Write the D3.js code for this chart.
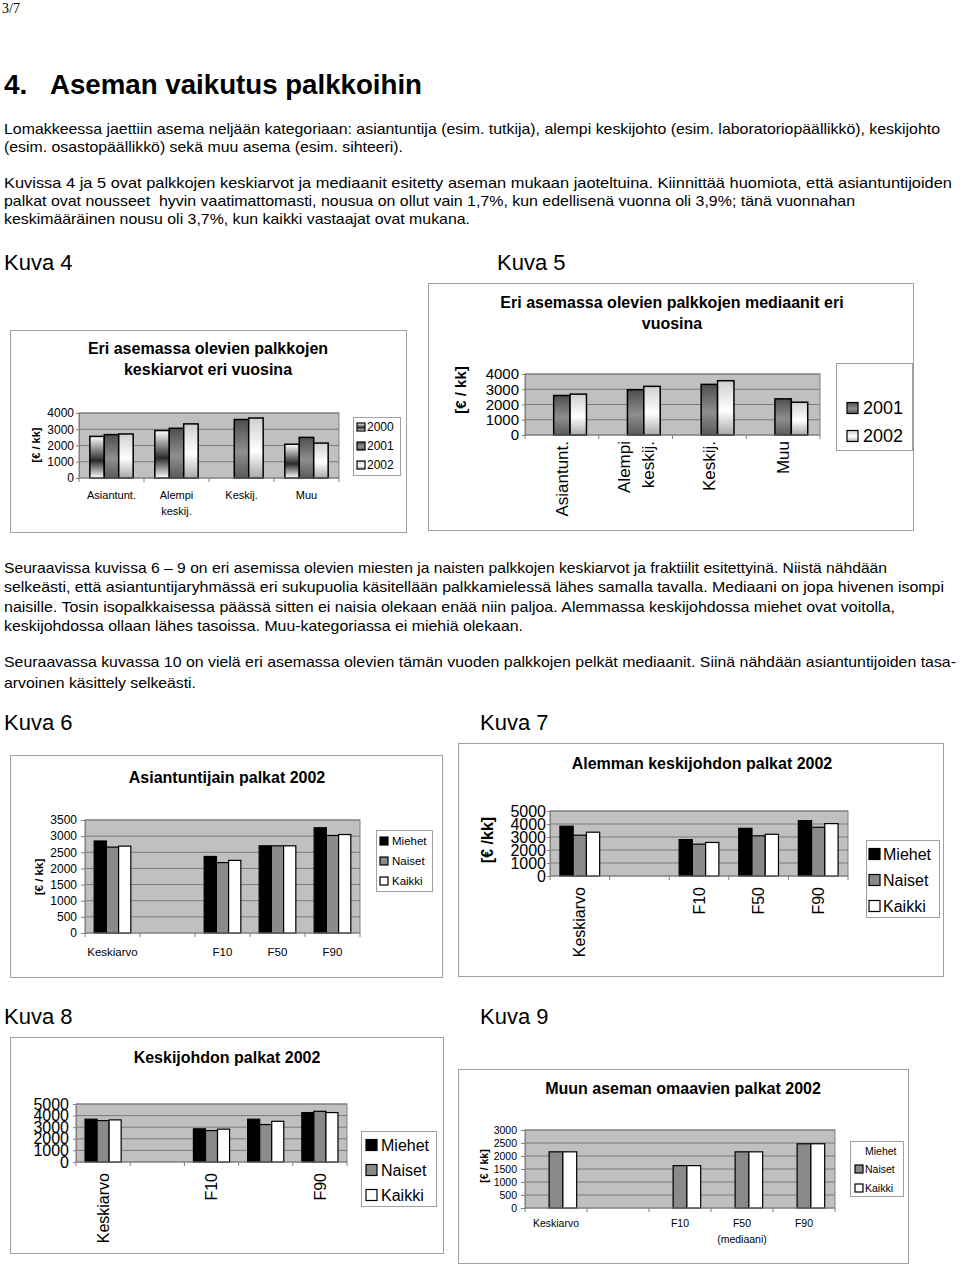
<!DOCTYPE html>
<html>
<head>
<meta charset="utf-8">
<script src="https://cdn.jsdelivr.net/npm/d3@7"></script>
<style>
  body { margin: 0; background: #fff; }
  svg { display: block; font-family: "Liberation Sans", Arial, sans-serif; }
  .pre { white-space: pre; }
</style>
</head>
<body>
<div id="page"></div>
<script>
// ---- data ----
const positions = ["Asiantunt.", "Alempi\nkeskij.", "Keskij.", "Muu"];
const years4 = ["2000", "2001", "2002"];
const mean2000 = [2560, 2920, null, 2080];
const mean2001 = [2670, 3060, 3600, 2500];
const mean2002 = [2710, 3330, 3690, 2150];

const years5 = ["2001", "2002"];
const median2001 = [2590, 2970, 3320, 2370];
const median2002 = [2680, 3190, 3560, 2150];

const fractiles = ["Keskiarvo", "", "F10", "F50", "F90"];
const fractiles9 = ["Keskiarvo", "", "F10", "F50\n(mediaani)", "F90"];
const groups = ["Miehet", "Naiset", "Kaikki"];

const asiantMiehet = [2850, null, 2370, 2700, 3260];
const asiantNaiset = [2660, null, 2180, 2700, 3020];
const asiantKaikki = [2690, null, 2250, 2700, 3050];

const alempiMiehet = [3830, null, 2800, 3670, 4260];
const alempiNaiset = [3140, null, 2450, 3090, 3750];
const alempiKaikki = [3370, null, 2580, 3210, 4030];

const keskiMiehet = [3690, null, 2860, 3690, 4260];
const keskiNaiset = [3570, null, 2710, 3230, 4370];
const keskiKaikki = [3630, null, 2830, 3510, 4260];

const muuMiehet = [null, null, null, null, null];
const muuNaiset = [2160, null, 1630, 2160, 2470];
const muuKaikki = [2160, null, 1630, 2160, 2470];

// ---- page text ----
const bodyLines = [
  ["Lomakkeessa jaettiin asema neljään kategoriaan: asiantuntija (esim. tutkija), alempi keskijohto (esim. laboratoriopäällikkö), keskijohto", 134, 936],
  ["(esim. osastopäällikkö) sekä muu asema (esim. sihteeri).", 152, 399],
  ["Kuvissa 4 ja 5 ovat palkkojen keskiarvot ja mediaanit esitetty aseman mukaan jaoteltuina. Kiinnittää huomiota, että asiantuntijoiden", 188, 948],
  ["palkat ovat nousseet  hyvin vaatimattomasti, nousua on ollut vain 1,7%, kun edellisenä vuonna oli 3,9%; tänä vuonnahan", 206, 851],
  ["keskimääräinen nousu oli 3,7%, kun kaikki vastaajat ovat mukana.", 224, 466],
  ["Seuraavissa kuvissa 6 – 9 on eri asemissa olevien miesten ja naisten palkkojen keskiarvot ja fraktiilit esitettyinä. Niistä nähdään", 573, 883],
  ["selkeästi, että asiantuntijaryhmässä eri sukupuolia käsitellään palkkamielessä lähes samalla tavalla. Mediaani on jopa hivenen isompi", 592, 940],
  ["naisille. Tosin isopalkkaisessa päässä sitten ei naisia olekaan enää niin paljoa. Alemmassa keskijohdossa miehet ovat voitolla,", 612, 891],
  ["keskijohdossa ollaan lähes tasoissa. Muu-kategoriassa ei miehiä olekaan.", 631, 519],
  ["Seuraavassa kuvassa 10 on vielä eri asemassa olevien tämän vuoden palkkojen pelkät mediaanit. Siinä nähdään asiantuntijoiden tasa-", 667, 952],
  ["arvoinen käsittely selkeästi.", 688, 192]
];
const figLabels = [
  ["Kuva 4", 4, 270], ["Kuva 5", 497, 270],
  ["Kuva 6", 4, 730], ["Kuva 7", 480, 730],
  ["Kuva 8", 4, 1024], ["Kuva 9", 480, 1024]
];

const svg = d3.select("#page").append("svg").attr("width", 960).attr("height", 1266);
const defs = svg.append("defs");

function vgrad(id, stops) {
  const lg = defs.append("linearGradient").attr("id", id)
    .attr("x1", 0).attr("y1", 0).attr("x2", 0).attr("y2", 1);
  stops.forEach(([o, c]) => lg.append("stop").attr("offset", o).attr("stop-color", c));
}
vgrad("g2000", [[0, "#ffffff"], [0.58, "#2a2a2a"], [1, "#ffffff"]]);
vgrad("g2001", [[0, "#4e4e4e"], [0.55, "#8e8e8e"], [1, "#5a5a5a"]]);
vgrad("g2002", [[0, "#cfcfcf"], [0.55, "#ffffff"], [1, "#a9a9a9"]]);

svg.append("text").attr("x", 2).attr("y", 13)
  .attr("font-family", "Liberation Serif, serif").attr("font-size", 14).text("3/7");

svg.append("text").attr("x", 4).attr("y", 94)
  .attr("font-weight", "bold").attr("font-size", 28).text("4.");
svg.append("text").attr("x", 50).attr("y", 94)
  .attr("font-weight", "bold").attr("font-size", 28)
  .attr("textLength", 372).attr("lengthAdjust", "spacingAndGlyphs")
  .text("Aseman vaikutus palkkoihin");

svg.selectAll("text.body").data(bodyLines).join("text")
  .attr("class", "body pre")
  .attr("x", 4).attr("y", d => d[1])
  .attr("font-size", 15)
  .attr("textLength", d => d[2]).attr("lengthAdjust", "spacingAndGlyphs")
  .text(d => d[0]);

svg.selectAll("text.fig").data(figLabels).join("text")
  .attr("class", "fig")
  .attr("x", d => d[1]).attr("y", d => d[2])
  .attr("font-size", 22)
  .text(d => d[0]);

// ---- generic Excel-like bar chart ----
function barChart(o) {
  const g = svg.append("g");
  const [bx0, by0, bx1, by1] = o.box;
  g.append("rect")
    .attr("x", bx0 + 0.5).attr("y", by0 + 0.5)
    .attr("width", bx1 - bx0).attr("height", by1 - by0)
    .attr("fill", "#fff").attr("stroke", "#a0a0a0");

  o.title.forEach((t, i) => g.append("text")
    .attr("x", o.titleX).attr("y", o.titleY + i * 21)
    .attr("text-anchor", "middle").attr("font-weight", "bold").attr("font-size", 16)
    .text(t));

  const [pl, pt, pr, pb] = o.plot;
  const n = o.categories.length;
  const x = d3.scaleBand().domain(d3.range(n)).range([pl, pr]);
  const y = d3.scaleLinear().domain([0, o.yMax]).range([pb, pt]);
  const ticks = d3.range(0, o.yMax + 1, o.yStep);

  g.append("rect").attr("x", pl).attr("y", pt)
    .attr("width", pr - pl).attr("height", pb - pt).attr("fill", "#c0c0c0");
  g.selectAll(null).data(ticks.slice(1)).join("line")
    .attr("x1", pl).attr("x2", pr)
    .attr("y1", d => y(d)).attr("y2", d => y(d))
    .attr("stroke", "#7a7a7a");
  g.append("rect").attr("x", pl).attr("y", pt)
    .attr("width", pr - pl).attr("height", pb - pt)
    .attr("fill", "none").attr("stroke", "#808080");

  const slots = o.slots || o.series.length;
  const offset = o.slotOffset || 0;
  const bw = x.step() / (slots + 1.5);
  o.series.forEach((s, si) => {
    g.selectAll(null)
      .data(s.values.map((v, i) => ({ v, i })).filter(d => d.v != null))
      .join("rect")
      .attr("x", d => x(d.i) + (x.step() - slots * bw) / 2 + (offset + si) * bw)
      .attr("y", d => y(d.v))
      .attr("width", bw).attr("height", d => pb - y(d.v))
      .attr("fill", s.fill).attr("stroke", "#000").attr("stroke-width", o.barStroke || 1.2);
  });

  // y axis
  const ya = g.append("g").attr("transform", `translate(${pl},0)`)
    .call(d3.axisLeft(y).tickValues(ticks).tickSize(o.tickSize || 4)
      .tickSizeOuter(0).tickPadding(o.tickPad).tickFormat(d3.format("d")));
  ya.attr("font-family", null).attr("font-size", o.tickFont);
  ya.select(".domain").attr("stroke", "#808080");
  ya.selectAll(".tick line").attr("stroke", "#808080");
  ya.selectAll(".tick text").attr("fill", "#000");

  // category axis
  g.append("line").attr("x1", pl).attr("x2", pr).attr("y1", pb).attr("y2", pb)
    .attr("stroke", "#808080");
  g.selectAll(null).data(d3.range(n + 1)).join("line")
    .attr("x1", i => pl + i * x.step()).attr("x2", i => pl + i * x.step())
    .attr("y1", pb).attr("y2", pb + 4).attr("stroke", "#808080");

  const every = o.labelEvery || 1;
  o.categories.forEach((c, i) => {
    if (i % every !== 0 || !c) return;
    const cx = x(i) + x.step() / 2;
    const lines = c.split("\n");
    lines.forEach((ln, li) => {
      if (o.rotate) {
        const off = (li - (lines.length - 1) / 2) * o.catLH;
        g.append("text")
          .attr("transform", `translate(${cx + off},${o.catY}) rotate(-90)`)
          .attr("text-anchor", "end").attr("dy", "0.35em")
          .attr("font-size", o.catFont).text(ln);
      } else {
        g.append("text").attr("x", cx).attr("y", o.catY + li * o.catLH)
          .attr("text-anchor", "middle").attr("font-size", o.catFont).text(ln);
      }
    });
  });

  if (o.yLabel) {
    g.append("text")
      .attr("transform", `translate(${o.yLabel[0]},${o.yLabel[1]}) rotate(-90)`)
      .attr("text-anchor", "middle").attr("dy", "0.35em")
      .attr("font-weight", "bold").attr("font-size", o.yLabel[2])
      .text(o.yLabel[3]);
  }

  // legend
  const L = o.legend;
  g.append("rect").attr("x", L.box[0] + 0.5).attr("y", L.box[1] + 0.5)
    .attr("width", L.box[2] - L.box[0]).attr("height", L.box[3] - L.box[1])
    .attr("fill", "#fff").attr("stroke", "#a0a0a0");
  o.series.forEach((s, si) => {
    const cy = L.rows[si];
    if (s.values.some(v => v != null)) {
      g.append("rect").attr("x", L.sx).attr("y", cy - L.ss / 2)
        .attr("width", L.ss).attr("height", L.ss)
        .attr("fill", s.fill).attr("stroke", "#000").attr("stroke-width", 1.2);
    }
    g.append("text").attr("x", L.tx).attr("y", cy).attr("dy", "0.35em")
      .attr("font-size", L.font).text(s.name);
  });
}

// Kuva 4
barChart({
  box: [10, 330, 406, 532],
  title: ["Eri asemassa olevien palkkojen", "keskiarvot eri vuosina"], titleX: 208, titleY: 354,
  plot: [79, 413, 339, 478], yMax: 4000, yStep: 1000, tickFont: 12, tickSize: 3, tickPad: 2,
  categories: positions, catY: 499, catLH: 16, catFont: 11,
  yLabel: [36, 445, 11, "[€ / kk]"],
  barStroke: 1.5,
  series: [
    { name: years4[0], values: mean2000, fill: "url(#g2000)" },
    { name: years4[1], values: mean2001, fill: "url(#g2001)" },
    { name: years4[2], values: mean2002, fill: "url(#g2002)" }
  ],
  legend: { box: [353, 417, 400, 475], rows: [427, 446, 465], sx: 357, ss: 8, tx: 367, font: 12 }
});

// Kuva 5
barChart({
  box: [428, 283, 913, 530],
  title: ["Eri asemassa olevien palkkojen mediaanit eri", "vuosina"], titleX: 672, titleY: 308,
  plot: [525, 374, 820, 435], yMax: 4000, yStep: 1000, tickFont: 15, tickSize: 3, tickPad: 3,
  categories: positions, rotate: true, catY: 441, catLH: 24, catFont: 17,
  yLabel: [461, 390, 15, "[€ / kk]"],
  barStroke: 1.5, slots: 3, slotOffset: 1,
  series: [
    { name: years5[0], values: median2001, fill: "url(#g2001)" },
    { name: years5[1], values: median2002, fill: "url(#g2002)" }
  ],
  legend: { box: [836, 363, 912, 450], rows: [408, 436], sx: 847, ss: 11, tx: 863, font: 18 }
});

// Kuva 6
barChart({
  box: [10, 755, 442, 977],
  title: ["Asiantuntijain palkat 2002"], titleX: 227, titleY: 783,
  plot: [85, 820, 360, 933], yMax: 3500, yStep: 500, tickFont: 12, tickSize: 4, tickPad: 4,
  categories: fractiles, catY: 956, catLH: 16, catFont: 11.5,
  yLabel: [39, 877, 11.5, "[€ / kk]"],
  series: [
    { name: groups[0], values: asiantMiehet, fill: "#000" },
    { name: groups[1], values: asiantNaiset, fill: "#8a8a8a" },
    { name: groups[2], values: asiantKaikki, fill: "#fff" }
  ],
  legend: { box: [376, 830, 432, 891], rows: [841, 861, 881], sx: 380, ss: 8, tx: 392, font: 11.5 }
});

// Kuva 7
barChart({
  box: [458, 743, 943, 976],
  title: ["Alemman keskijohdon palkat 2002"], titleX: 702, titleY: 769,
  plot: [550, 811, 848, 876], yMax: 5000, yStep: 1000, tickFont: 16, tickSize: 3, tickPad: 1,
  categories: fractiles, rotate: true, catY: 887, catLH: 20, catFont: 16,
  yLabel: [487, 840, 16, "[€ /kk]"],
  series: [
    { name: groups[0], values: alempiMiehet, fill: "#000" },
    { name: groups[1], values: alempiNaiset, fill: "#8a8a8a" },
    { name: groups[2], values: alempiKaikki, fill: "#fff" }
  ],
  legend: { box: [866, 840, 939, 917], rows: [854, 880, 906], sx: 869, ss: 11, tx: 883, font: 16 }
});

// Kuva 8
barChart({
  box: [10, 1037, 443, 1253],
  title: ["Keskijohdon palkat 2002"], titleX: 227, titleY: 1063,
  plot: [76, 1104, 347, 1162], yMax: 5000, yStep: 1000, tickFont: 16, tickSize: 3, tickPad: 4,
  categories: fractiles, rotate: true, labelEvery: 2, catY: 1173, catLH: 20, catFont: 16,
  series: [
    { name: groups[0], values: keskiMiehet, fill: "#000" },
    { name: groups[1], values: keskiNaiset, fill: "#8a8a8a" },
    { name: groups[2], values: keskiKaikki, fill: "#fff" }
  ],
  legend: { box: [361, 1131, 436, 1206], rows: [1145, 1170, 1195], sx: 366, ss: 11, tx: 381, font: 16 }
});

// Kuva 9
barChart({
  box: [458, 1069, 908, 1263],
  title: ["Muun aseman omaavien palkat 2002"], titleX: 683, titleY: 1094,
  plot: [525, 1130, 835, 1208], yMax: 3000, yStep: 500, tickFont: 10.5, tickSize: 4, tickPad: 4,
  categories: fractiles9, catY: 1227, catLH: 16, catFont: 10.5,
  yLabel: [484, 1166, 10.5, "[€ / kk]"],
  series: [
    { name: groups[0], values: muuMiehet, fill: "#000" },
    { name: groups[1], values: muuNaiset, fill: "#8a8a8a" },
    { name: groups[2], values: muuKaikki, fill: "#fff" }
  ],
  legend: { box: [850, 1141, 903, 1196], rows: [1151, 1169, 1188], sx: 855, ss: 8, tx: 865, font: 10.5 }
});
</script>
</body>
</html>
